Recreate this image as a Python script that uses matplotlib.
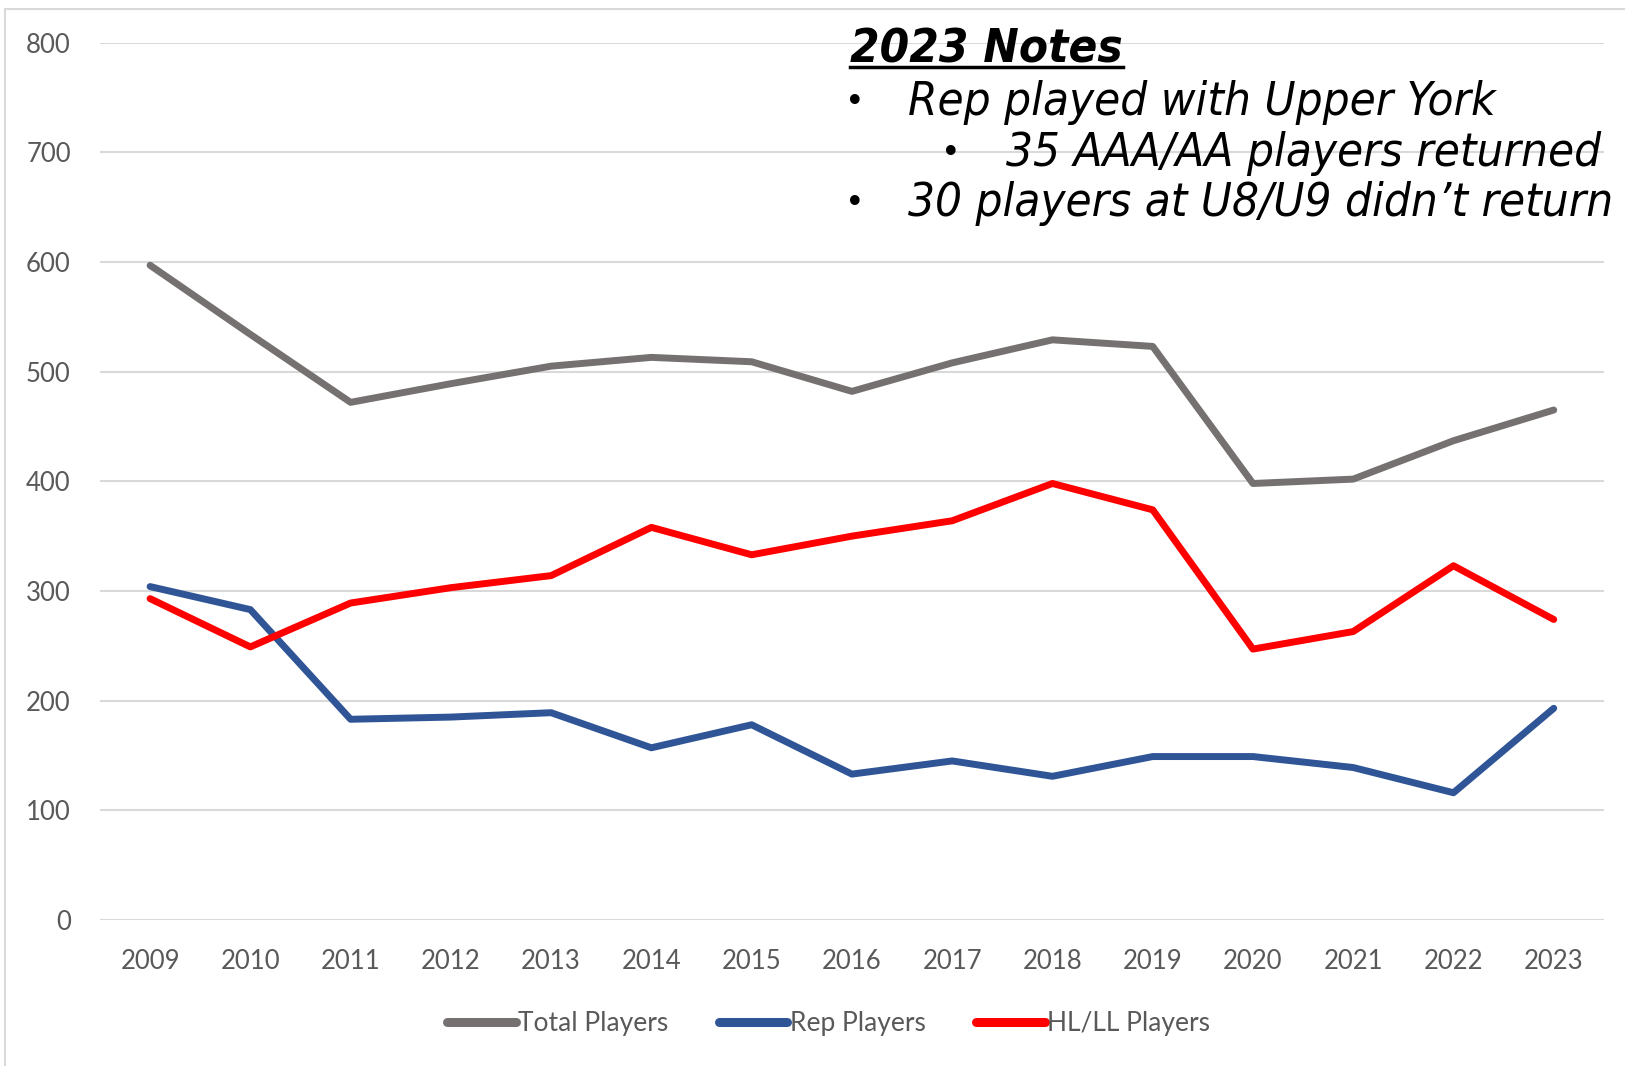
import matplotlib.pyplot as plt
from matplotlib.lines import Line2D
import numpy as np

years = ['2009', '2010', '2011', '2012', '2013', '2014', '2015', '2016',
         '2017', '2018', '2019', '2020', '2021', '2022', '2023']
total_players = [597, 534, 472, 489, 505, 513, 509, 482, 508, 529, 523, 398, 402, 437, 465]
rep_players = [304, 283, 183, 185, 189, 157, 178, 133, 145, 131, 149, 149, 139, 116, 193]
hl_ll_players = [293, 249, 289, 303, 314, 358, 333, 350, 364, 398, 374, 247, 263, 323, 274]
y_ticks = [0, 100, 200, 300, 400, 500, 600, 700, 800]

note_title = '2023 Notes'
note_lines = ['Rep played with Upper York',
              '35 AAA/AA players returned',
              '30 players at U8/U9 didn\u2019t return']

grey = '#757171'
blue = '#2F5597'
red = '#FF0000'
label_col = '#595959'

fig = plt.figure(figsize=(16.25, 10.66), dpi=100)
ax = fig.add_axes([0.0615, 0.137, 0.9255, 0.823])

x = np.arange(len(years))
ax.plot(x, total_players, color=grey, lw=5, solid_capstyle='round', label='Total Players')
ax.plot(x, rep_players, color=blue, lw=5, solid_capstyle='round', label='Rep Players')
ax.plot(x, hl_ll_players, color=red, lw=5, solid_capstyle='round', label='HL/LL Players')

ax.set_xlim(-0.5, len(years) - 0.5)
ax.set_ylim(0, 800)
ax.set_yticks(y_ticks)
ax.set_xticks(x)
ax.set_xticklabels(years)
ax.grid(axis='y', color='#d9d9d9', lw=1.5)
ax.set_axisbelow(True)
for s in ax.spines.values():
    s.set_visible(False)
ax.tick_params(length=0, labelsize=18.5, labelcolor=label_col)
ax.tick_params(axis='x', pad=21)
ax.tick_params(axis='y', pad=21)
for t in ax.get_xticklabels() + ax.get_yticklabels():
    t.set_family('Lato')

handles = [Line2D([], [], color=c, lw=6.5, solid_capstyle='round') for c in (grey, blue, red)]
fig.legend(handles, ['Total Players', 'Rep Players', 'HL/LL Players'],
           loc='center', bbox_to_anchor=(0.51, 0.04), ncol=3, frameon=False,
           prop={'family': 'Lato', 'size': 19}, labelcolor=label_col,
           handlelength=2.6, handletextpad=0.1, columnspacing=1.9)

# notes block
title = fig.text(0.523, 0.953, note_title, fontsize=34, fontweight='bold', style='italic',
                 family='DejaVu Sans', fontstretch='condensed', va='center')
fig.canvas.draw()
bb = title.get_window_extent().transformed(fig.transFigure.inverted())
fig.add_artist(Line2D([bb.x0, bb.x1], [0.937, 0.937], color='black', lw=2.5))

bullet_x = [0.526, 0.585, 0.526]
text_x = [0.559, 0.619, 0.559]
ys = [0.904, 0.856, 0.809]
for bx, tx, yy, s in zip(bullet_x, text_x, ys, note_lines):
    fig.text(bx, yy, '\u2022', fontsize=24, va='center', ha='center', family='DejaVu Sans')
    fig.text(tx, yy, s, fontsize=34, style='italic', family='DejaVu Sans',
             fontstretch='condensed', va='center')

# outer frame of the screenshot
fig.add_artist(Line2D([0.003, 0.003], [0, 0.992], color='#d9d9d9', lw=1.5))
fig.add_artist(Line2D([0.003, 1], [0.992, 0.992], color='#d9d9d9', lw=1.5))

fig.savefig('out.png', dpi=100)
